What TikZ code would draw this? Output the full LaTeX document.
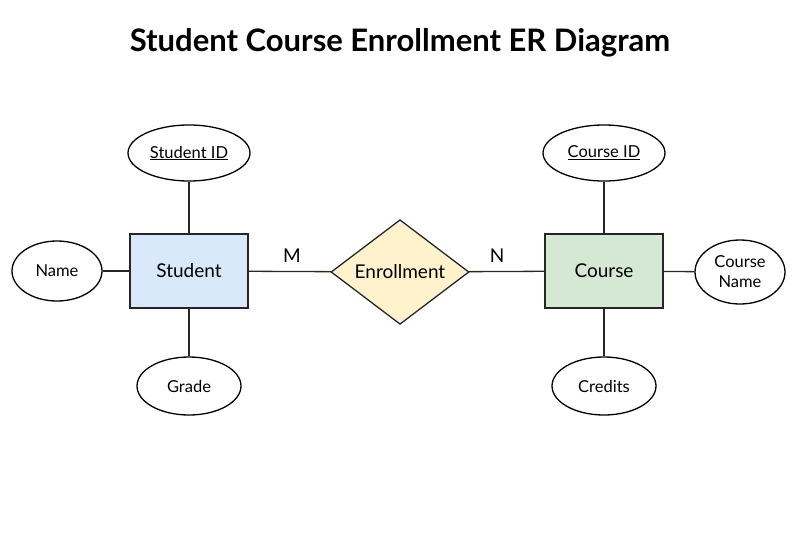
\documentclass[tikz,border=0pt]{standalone}
\usepackage{fontspec}
\setmainfont{Lato}
\usetikzlibrary{shapes.geometric}
\begin{document}
\begin{tikzpicture}[x=1pt,y=-1pt,
  ent/.style={draw=black!85,line width=1.3pt,minimum width=118pt,minimum height=74pt,inner sep=0pt,font=\fontsize{19}{22}\selectfont},
  att/.style={draw=black,line width=1.3pt,ellipse,fill=white,inner sep=0pt,font=\fontsize{16.5}{19}\selectfont,align=center},
  ln/.style={line width=1.3pt,draw=black!85}]
\definecolor{cBlue}{HTML}{DAE8FC}
\definecolor{cGreen}{HTML}{D5E8D4}
\definecolor{cYel}{HTML}{FFF2CC}
\useasboundingbox (0,0) rectangle (800,533);
\node[font=\fontsize{31}{36}\selectfont\bfseries] (title) at (400,43) {Student Course Enrollment ER Diagram};
\node[ent,fill=cBlue] (stu) at (189,271) {Student};
\node[ent,fill=cGreen] (crs) at (604,271) {Course};
\node[draw=black!85,line width=1.3pt,diamond,fill=cYel,minimum width=138pt,minimum height=101pt,inner sep=0pt,font=\fontsize{19}{22}\selectfont] (enr) at (400,272) {Enrollment};
\node[att,minimum width=122pt,minimum height=56pt] (sid) at (189,153) {\underline{Student ID}};
\node[att,minimum width=122pt,minimum height=56pt] (cid) at (604,153) {\underline{Course ID}};
\node[att,minimum width=90pt,minimum height=60pt] (name) at (57,271) {Name};
\node[att,minimum width=90pt,minimum height=64pt,font=\fontsize{16.5}{20}\selectfont] (cname) at (740,272) {Course\\Name};
\node[att,minimum width=104pt,minimum height=58pt] (grade) at (189,386) {Grade};
\node[att,minimum width=104pt,minimum height=58pt] (cred) at (604,386) {Credits};
\node[font=\fontsize{19}{22}\selectfont] (m) at (292,256) {M};
\node[font=\fontsize{19}{22}\selectfont] (n) at (497,256) {N};
\draw[ln] (stu) -- (enr);
\draw[ln] (enr) -- (crs);
\draw[ln] (stu) -- (sid);
\draw[ln] (stu) -- (name);
\draw[ln] (stu) -- (grade);
\draw[ln] (crs) -- (cid);
\draw[ln] (crs) -- (cname);
\draw[ln] (crs) -- (cred);
\end{tikzpicture}
\end{document}
